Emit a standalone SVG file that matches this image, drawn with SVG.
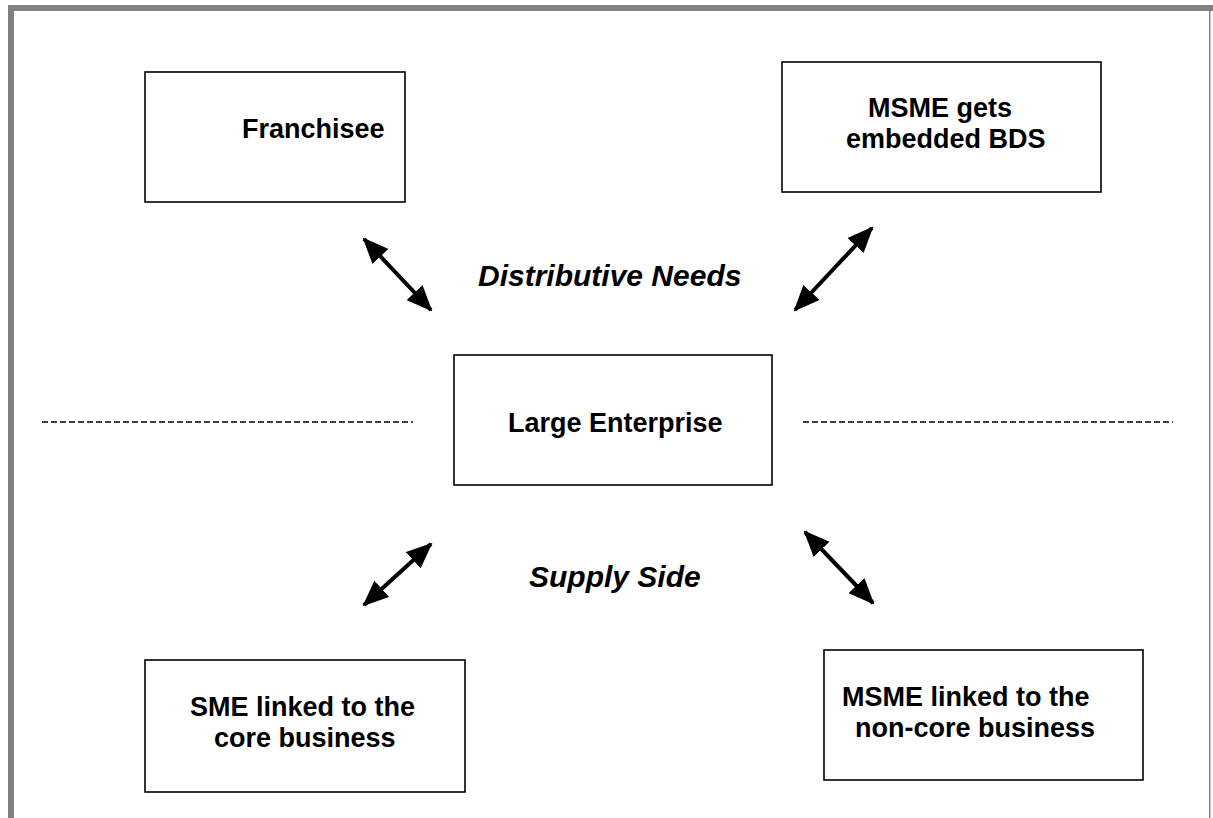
<svg xmlns="http://www.w3.org/2000/svg" width="1213" height="818" viewBox="0 0 1213 818">
<defs>
<style>
.box{fill:#fff;stroke:#000;stroke-width:1.6}
.t{font-family:"Liberation Sans",Arial,sans-serif;font-weight:bold;font-size:27px;fill:#000}
.ti{font-family:"Liberation Sans",Arial,sans-serif;font-weight:bold;font-style:italic;font-size:30px;fill:#000}
.arr{stroke:#000;stroke-width:4;fill:none;marker-start:url(#ah);marker-end:url(#ah)}
.dash{stroke:#000;stroke-width:1.6;stroke-dasharray:6,3;fill:none}
</style>
<marker id="ah" markerUnits="userSpaceOnUse" viewBox="0 0 26 22" refX="24" refY="11" markerWidth="26" markerHeight="22" orient="auto-start-reverse">
<path d="M0,0 L26,11 L0,22 Z" fill="#000"/>
</marker>
</defs>
<rect x="0" y="0" width="1213" height="818" fill="#fff"/>
<g id="frame">
<rect x="8" y="5" width="1205" height="6" fill="#808080"/>
<rect x="8" y="5" width="6" height="813" fill="#808080"/>
<rect x="1209" y="5" width="1.5" height="813" fill="#808080"/>
</g>
<g id="connectors">
<line class="arr" x1="364" y1="239" x2="431" y2="310"/>
<line class="arr" x1="872" y1="228" x2="795" y2="310"/>
<line class="arr" x1="431" y1="544" x2="364" y2="605"/>
<line class="arr" x1="805" y1="532" x2="873" y2="603"/>
<line class="dash" x1="42" y1="422" x2="413" y2="422"/>
<line class="dash" x1="803" y1="422" x2="1173" y2="422"/>
</g>
<g id="franchisee">
<rect class="box" x="145" y="72" width="260" height="130"/>
<text class="t" x="242" y="138">Franchisee</text>
</g>
<g id="msme-bds">
<rect class="box" x="782" y="62" width="319" height="130"/>
<text class="t" x="868" y="117">MSME gets</text>
<text class="t" x="846" y="148">embedded BDS</text>
</g>
<g id="large-enterprise">
<rect class="box" x="454" y="355" width="318" height="130"/>
<text class="t" x="508" y="432">Large Enterprise</text>
</g>
<g id="sme-core">
<rect class="box" x="145" y="660" width="320" height="132"/>
<text class="t" x="190" y="716">SME linked to the</text>
<text class="t" x="214" y="747">core business</text>
</g>
<g id="msme-noncore">
<rect class="box" x="824" y="650" width="319" height="130"/>
<text class="t" x="842" y="706">MSME linked to the</text>
<text class="t" x="855" y="737">non-core business</text>
</g>
<g id="labels">
<text class="ti" x="478" y="286">Distributive Needs</text>
<text class="ti" x="529" y="587">Supply Side</text>
</g>
</svg>
